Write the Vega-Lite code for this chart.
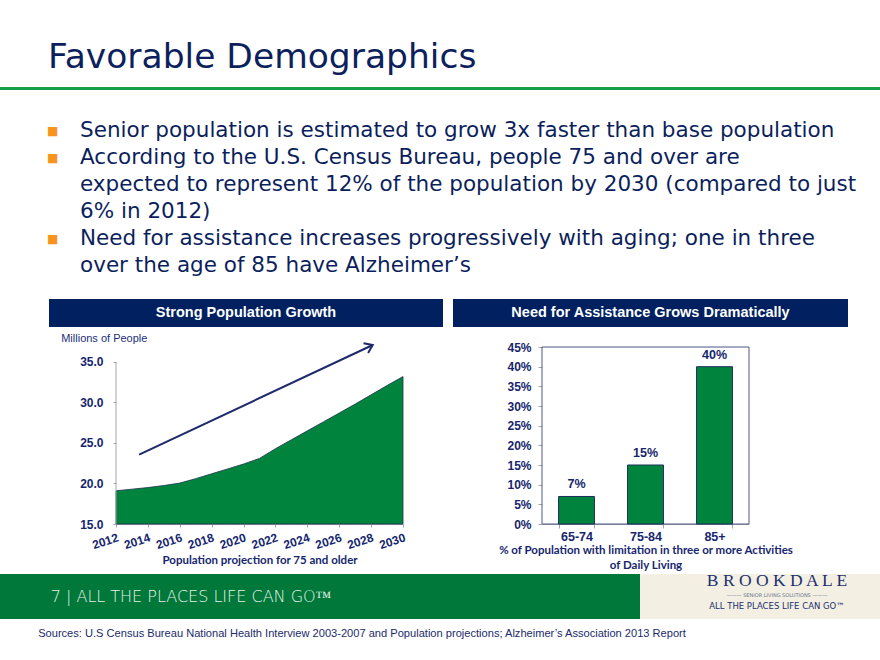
{
  "$schema": "https://vega.github.io/schema/vega-lite/v6.json",
  "background": "white",
  "padding": 0,
  "spacing": 0,
  "config": {
    "view": {"stroke": null},
    "axis": {
      "labelFont": "Liberation Sans", "labelFontWeight": "bold", "labelFontSize": 12, "labelColor": "#16266e",
      "titleFont": "Lato", "titleFontWeight": "bold", "titleFontSize": 11.5, "titleColor": "#16266e",
      "domainColor": "#a6a6a6", "tickColor": "#a6a6a6", "grid": false, "labelOverlap": false, "labelFlush": false
    }
  },
  "vconcat": [
    {"width": 96, "height": 87, "data": {"values": [{"t": "Favorable Demographics"}]},
     "mark": {"type": "text", "align": "left", "baseline": "top", "dy": -3, "font": "DejaVu Sans", "fontSize": 34.5, "color": "#0d1f5c"},
     "encoding": {"text": {"field": "t", "type": "nominal"}}},

    {"width": 880, "height": 3, "view": {"fill": "#14a048", "stroke": null}, "mark": "point", "data": {"values": []}},

    {"width": 160, "height": 189,
     "data": {"values": [
       {"line": 1, "bullet": true, "text": "Senior population is estimated to grow 3x faster than base population"},
       {"line": 2, "bullet": true, "text": "According to the U.S. Census Bureau, people 75 and over are"},
       {"line": 3, "bullet": false, "text": "expected to represent 12% of the population by 2030 (compared to just"},
       {"line": 4, "bullet": false, "text": "6% in 2012)"},
       {"line": 5, "bullet": true, "text": "Need for assistance increases progressively with aging; one in three"},
       {"line": 6, "bullet": false, "text": "over the age of 85 have Alzheimer’s"}]},
     "encoding": {
       "y": {"field": "line", "type": "ordinal", "axis": null, "scale": {"type": "point", "padding": 1, "align": 0.7685}}
     },
     "layer": [
       {"transform": [{"filter": "datum.bullet"}],
        "mark": {"type": "text", "align": "left", "baseline": "middle", "dx": -33, "font": "DejaVu Sans", "fontSize": 12, "color": "#f7941d"},
        "encoding": {"text": {"value": "■"}}},
       {"mark": {"type": "text", "align": "left", "baseline": "middle", "font": "DejaVu Sans", "fontSize": 21.5, "color": "#0c1f5c"},
        "encoding": {"text": {"field": "text", "type": "nominal"}}}
     ]},

    {"width": 1, "height": 20, "mark": "point", "data": {"values": []}},

    {"hconcat": [
      {"width": 49, "height": 1, "mark": "point", "data": {"values": []}},
      {"width": 394, "height": 28, "view": {"fill": "#002060", "stroke": null},
       "data": {"values": [{"h": "Strong Population Growth"}]},
       "mark": {"type": "text", "font": "Liberation Sans", "fontWeight": "bold", "fontSize": 14.5, "color": "white", "baseline": "middle"},
       "encoding": {"text": {"field": "h", "type": "nominal"}}},
      {"width": 10, "height": 1, "mark": "point", "data": {"values": []}},
      {"width": 395, "height": 28, "view": {"fill": "#002060", "stroke": null},
       "data": {"values": [{"h": "Need for Assistance Grows Dramatically"}]},
       "mark": {"type": "text", "font": "Liberation Sans", "fontWeight": "bold", "fontSize": 14.5, "color": "white", "baseline": "middle"},
       "encoding": {"text": {"field": "h", "type": "nominal"}}}
     ], "spacing": 0, "bounds": "flush"},

    {"hconcat": [
      {"width": 116, "height": 245, "mark": "point", "data": {"values": []}},
      {"width": 287, "height": 197,
       "encoding": {
         "x": {"field": "year", "type": "quantitative",
               "scale": {"domain": [2012, 2030], "nice": false, "zero": false},
               "axis": {"values": [2012, 2014, 2016, 2018, 2020, 2022, 2024, 2026, 2028, 2030], "format": "d",
                        "labelAngle": -18, "labelAlign": "right", "labelBaseline": "top", "labelPadding": 5,
                        "labelOverlap": false, "labelBound": false,
                        "tickSize": 3, "title": "Population projection for 75 and older", "titlePadding": 4}},
         "y": {"field": "pop", "type": "quantitative",
               "scale": {"domain": [15, 39.32], "nice": false, "zero": false},
               "axis": {"values": [15, 20, 25, 30, 35], "format": ".1f", "domain": false, "tickSize": 3,
                        "labelPadding": 10, "labelOverlap": false,
                        "title": "Millions of People", "titleAngle": 0, "titleX": -55.3, "titleY": 14.5,
                        "titleAlign": "left", "titleBaseline": "alphabetic", "titleFont": "Liberation Sans",
                        "titleFontWeight": "normal", "titleFontSize": 11, "titleColor": "#1b2f7a"}}
       },
       "layer": [
         {"data": {"values": [
            {"year": 2012, "pop": 19.1}, {"year": 2013, "pop": 19.3}, {"year": 2014, "pop": 19.5},
            {"year": 2015, "pop": 19.75}, {"year": 2016, "pop": 20.05}, {"year": 2017, "pop": 20.6},
            {"year": 2018, "pop": 21.2}, {"year": 2019, "pop": 21.8}, {"year": 2020, "pop": 22.4},
            {"year": 2021, "pop": 23.1}, {"year": 2022, "pop": 24.3}, {"year": 2023, "pop": 25.4},
            {"year": 2024, "pop": 26.5}, {"year": 2025, "pop": 27.6}, {"year": 2026, "pop": 28.7},
            {"year": 2027, "pop": 29.8}, {"year": 2028, "pop": 30.95}, {"year": 2029, "pop": 32.1},
            {"year": 2030, "pop": 33.2}]},
          "mark": {"type": "area", "color": "#00843d", "stroke": "#1e3050", "strokeWidth": 0.8},
          "encoding": {"y2": {"datum": 15}}},
         {"data": {"values": [{"year": 2012, "pop": 15, "pop2": 35}]},
          "mark": {"type": "rule", "color": "#a6a6a6"},
          "encoding": {"y2": {"field": "pop2"}}},
         {"data": {"values": [{"year": 2013.45, "pop": 23.56}, {"year": 2028.1, "pop": 37.1}]},
          "mark": {"type": "line", "color": "#1d2a6b", "strokeWidth": 2}},
         {"data": {"values": [{"year": 2028.1, "pop": 37.1}]},
          "mark": {"type": "point", "shape": "M -1.2 -0.85 L 0 0 L -1.2 0.85", "filled": false, "angle": -25, "size": 160, "strokeWidth": 2, "color": "#1d2a6b", "opacity": 1}}
       ]},
      {"width": 139, "height": 1, "mark": "point", "data": {"values": []}},
      {"width": 207, "height": 197,
       "encoding": {
         "y": {"field": "pct", "type": "quantitative", "scale": {"domain": [0, 0.5009], "nice": false},
               "axis": {"values": [0, 0.05, 0.1, 0.15, 0.2, 0.25, 0.3, 0.35, 0.4, 0.45], "format": ".0%",
                        "labelOverlap": false, "domain": false, "tickSize": 4, "labelPadding": 7, "title": null}}
       },
       "layer": [
         {"data": {"values": [{"pct": 0.45, "pct0": 0}]},
          "mark": {"type": "rect", "fill": "transparent", "stroke": "#4a5888", "strokeWidth": 1},
          "encoding": {"y2": {"field": "pct0"}}},
         {"data": {"values": [
            {"age": "65-74", "pct": 0.07, "label": "7%"},
            {"age": "75-84", "pct": 0.15, "label": "15%"},
            {"age": "85+", "pct": 0.40, "label": "40%"}]},
          "encoding": {
            "x": {"field": "age", "type": "nominal", "sort": null,
                  "scale": {"paddingInner": 0.48, "paddingOuter": 0.24},
                  "axis": {"labelAngle": 0, "tickBand": "extent", "tickSize": 4, "labelPadding": 2, "labelFontSize": 12.5,
                           "title": ["% of Population with limitation in three or more Activities", "of Daily Living"],
                           "titleLineHeight": 14.5, "titlePadding": 2}}
          },
          "layer": [
            {"mark": {"type": "bar", "color": "#00843d", "stroke": "#1f2d5c", "strokeWidth": 1}},
            {"mark": {"type": "text", "baseline": "bottom", "dy": -5, "font": "Liberation Sans", "fontWeight": "bold", "fontSize": 12.5, "color": "#16266e"},
             "encoding": {"text": {"field": "label", "type": "nominal"}}}
          ]}
       ]}
     ], "spacing": 0, "bounds": "flush"},

    {"hconcat": [
      {"width": 382, "height": 45, "view": {"fill": "#00783a", "stroke": null},
       "data": {"values": [{"t": "7  |  ALL THE PLACES LIFE CAN GO™"}]},
       "mark": {"type": "text", "baseline": "middle", "font": "DejaVu Sans", "fontWeight": 300, "fontSize": 16, "color": "#e4f1e8"},
       "encoding": {"text": {"field": "t", "type": "nominal"}}},
      {"width": 258, "height": 45, "view": {"fill": "#00783a", "stroke": null}, "mark": "point", "data": {"values": []}},
      {"width": 34, "height": 45, "view": {"fill": "#f3efe3", "stroke": null}, "mark": "point", "data": {"values": []}},
      {"width": 206, "height": 45, "view": {"fill": "#f3efe3", "stroke": null},
       "data": {"values": [{"brand": "B R O O K D A L E", "sub": "——— SENIOR LIVING SOLUTIONS ———", "tag": "ALL THE PLACES LIFE CAN GO™"}]},
       "layer": [
         {"mark": {"type": "text", "baseline": "middle", "dy": -15.5, "font": "Liberation Serif", "fontSize": 17.5, "color": "#223070"},
          "encoding": {"text": {"field": "brand", "type": "nominal"}}},
         {"mark": {"type": "text", "baseline": "middle", "dy": -1.5, "font": "DejaVu Sans", "fontSize": 5, "color": "#6b7590"},
          "encoding": {"text": {"field": "sub", "type": "nominal"}}},
         {"mark": {"type": "text", "baseline": "middle", "dy": 9, "font": "DejaVu Sans", "fontSize": 8.5, "color": "#223070"},
          "encoding": {"text": {"field": "tag", "type": "nominal"}}}
       ]}
     ], "spacing": 0, "bounds": "flush"},

    {"width": 724, "height": 30, "data": {"values": [{"t": "Sources: U.S Census Bureau National Health Interview 2003-2007 and Population projections; Alzheimer’s Association 2013 Report"}]},
     "mark": {"type": "text", "baseline": "middle", "font": "Liberation Sans", "fontSize": 11.1, "color": "#1a2b6b"},
     "encoding": {"text": {"field": "t", "type": "nominal"}}}
  ]
}
